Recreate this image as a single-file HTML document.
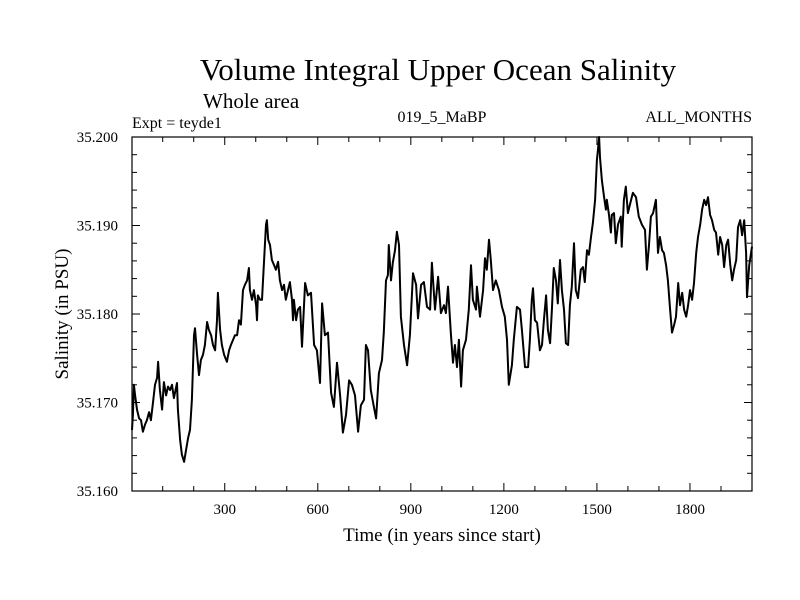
<!DOCTYPE html>
<html><head><meta charset="utf-8"><style>
body{margin:0;background:#fff}
svg{display:block;font-family:"Liberation Serif",serif}
</style></head><body>
<svg id="chart" width="800" height="600" viewBox="0 0 800 600">
<rect width="800" height="600" fill="#fff"/>
<text x="438" y="80" font-size="31" text-anchor="middle">Volume Integral Upper Ocean Salinity</text>
<text x="203" y="108" font-size="21">Whole area</text>
<text x="132" y="128" font-size="16">Expt = teyde1</text>
<text x="442" y="122" font-size="16" text-anchor="middle">019_5_MaBP</text>
<text x="752" y="122" font-size="16" text-anchor="end">ALL_MONTHS</text>
<text transform="translate(68,314) rotate(-90)" font-size="19" text-anchor="middle">Salinity (in PSU)</text>
<text x="442" y="541" font-size="19" text-anchor="middle">Time (in years since start)</text>
<g id="axes"></g>
<path id="series" fill="none" stroke="#000" stroke-width="2" stroke-linejoin="round"/>
<rect x="132" y="137" width="620" height="354" fill="none" stroke="#000" stroke-width="1.2"/>
</svg>
<script>
const years=[1,4,7,11,17,24,30,36,43,49,56,62,69,75,82,85,91,98,104,111,117,124,130,136,146,149,156,162,169,175,182,188,194,201,204,211,217,223,230,236,243,249,256,262,269,275,278,285,291,298,307,314,320,327,333,340,346,352,359,365,372,378,381,388,394,401,404,407,414,420,427,433,436,440,446,452,459,465,472,478,485,491,497,504,510,517,520,523,530,536,543,549,559,568,578,588,597,607,614,623,633,643,652,662,672,681,691,701,710,720,730,739,749,755,762,771,781,788,797,807,813,820,826,829,836,842,849,855,862,868,878,888,897,907,917,923,933,942,952,962,968,978,988,997,1007,1013,1020,1029,1036,1042,1049,1055,1062,1068,1078,1087,1094,1100,1110,1113,1123,1133,1139,1145,1152,1158,1165,1174,1184,1194,1203,1210,1216,1226,1232,1242,1252,1258,1268,1278,1284,1290,1294,1300,1307,1316,1323,1329,1336,1342,1349,1355,1361,1368,1374,1381,1387,1394,1400,1407,1413,1419,1426,1432,1439,1448,1455,1461,1468,1474,1481,1487,1494,1500,1503,1507,1510,1516,1523,1529,1532,1539,1545,1548,1555,1561,1568,1577,1580,1587,1593,1600,1606,1616,1626,1635,1645,1655,1661,1668,1674,1681,1690,1697,1703,1710,1716,1723,1729,1736,1742,1749,1755,1762,1768,1775,1781,1788,1794,1800,1807,1813,1820,1826,1833,1839,1846,1852,1858,1865,1871,1878,1884,1891,1897,1904,1910,1917,1923,1930,1936,1942,1949,1955,1962,1968,1975,1981,1984,1991,2000];
const salinity=[35.1669,35.1686,35.1720,35.1708,35.1692,35.1682,35.1680,35.1667,35.1675,35.1680,35.1689,35.1680,35.1701,35.1720,35.1728,35.1746,35.1714,35.1692,35.1723,35.1708,35.1718,35.1714,35.1720,35.1705,35.1722,35.1692,35.1658,35.1641,35.1633,35.1646,35.1660,35.1669,35.1703,35.1776,35.1784,35.1754,35.1731,35.1748,35.1754,35.1765,35.1791,35.1782,35.1776,35.1765,35.1759,35.1793,35.1824,35.1782,35.1765,35.1754,35.1746,35.1759,35.1765,35.1771,35.1776,35.1776,35.1793,35.1788,35.1827,35.1833,35.1838,35.1852,35.1827,35.1816,35.1827,35.1810,35.1793,35.1821,35.1816,35.1816,35.1861,35.1901,35.1906,35.1884,35.1878,35.1861,35.1855,35.1850,35.1859,35.1838,35.1827,35.1833,35.1816,35.1827,35.1836,35.1816,35.1793,35.1816,35.1793,35.1805,35.1808,35.1763,35.1835,35.1821,35.1824,35.1765,35.1759,35.1722,35.1812,35.1776,35.1779,35.1711,35.1695,35.1745,35.1708,35.1666,35.1686,35.1725,35.1720,35.1708,35.1667,35.1697,35.1703,35.1765,35.1759,35.1714,35.1695,35.1682,35.1733,35.1748,35.1779,35.1838,35.1844,35.1878,35.1838,35.1858,35.1872,35.1893,35.1878,35.1797,35.1765,35.1742,35.1776,35.1846,35.1833,35.1795,35.1833,35.1836,35.1808,35.1805,35.1858,35.1805,35.1842,35.1801,35.1810,35.1801,35.1831,35.1779,35.1745,35.1765,35.1740,35.1771,35.1718,35.1759,35.1771,35.1805,35.1855,35.1816,35.1805,35.1831,35.1797,35.1827,35.1863,35.1850,35.1884,35.1861,35.1827,35.1838,35.1827,35.1808,35.1797,35.1771,35.1720,35.1742,35.1771,35.1808,35.1805,35.1782,35.1740,35.1740,35.1771,35.1816,35.1829,35.1793,35.1790,35.1759,35.1765,35.1793,35.1821,35.1782,35.1767,35.1805,35.1852,35.1838,35.1812,35.1861,35.1827,35.1805,35.1767,35.1765,35.1810,35.1831,35.1880,35.1827,35.1818,35.1850,35.1853,35.1836,35.1872,35.1867,35.1887,35.1903,35.1929,35.1974,35.1985,35.2000,35.1977,35.1951,35.1932,35.1918,35.1929,35.1912,35.1892,35.1912,35.1914,35.1880,35.1901,35.1910,35.1876,35.1929,35.1944,35.1914,35.1923,35.1937,35.1932,35.1910,35.1901,35.1895,35.1850,35.1878,35.1910,35.1914,35.1929,35.1869,35.1887,35.1872,35.1869,35.1855,35.1838,35.1805,35.1779,35.1788,35.1797,35.1835,35.1810,35.1824,35.1805,35.1797,35.1810,35.1827,35.1816,35.1835,35.1869,35.1887,35.1901,35.1918,35.1929,35.1923,35.1932,35.1912,35.1906,35.1895,35.1892,35.1867,35.1887,35.1878,35.1853,35.1878,35.1884,35.1855,35.1838,35.1850,35.1861,35.1898,35.1906,35.1889,35.1906,35.1869,35.1819,35.1855,35.1876];
const xTickLabels=["300","600","900","1200","1500","1800"];
const yTickLabels=["35.160","35.170","35.180","35.190","35.200"];

const X0=132,X1=752,Y0=137,Y1=491,XMIN=1,XMAX=2000,YMIN=35.16,YMAX=35.2;
function sx(v){return X0+(v-XMIN)/(XMAX-XMIN)*(X1-X0);}
function sy(v){return Y1-(v-YMIN)/(YMAX-YMIN)*(Y1-Y0);}
const NS="http://www.w3.org/2000/svg";
const axes=document.getElementById('axes');
function line(x1,y1,x2,y2,name){const l=document.createElementNS(NS,'line');l.setAttribute('x1',x1);l.setAttribute('y1',y1);l.setAttribute('x2',x2);l.setAttribute('y2',y2);l.setAttribute('stroke','#000');l.setAttribute('stroke-width','1');


axes.appendChild(l);}
function text(x,y,s,anchor,name){const t=document.createElementNS(NS,'text');t.setAttribute('x',x);t.setAttribute('y',y);t.setAttribute('font-size','15');t.setAttribute('text-anchor',anchor);t.textContent=s;


axes.appendChild(t);}
for(let yr=100;yr<XMAX;yr+=100){const x=sx(yr);const major=yr%300===0;const L=major?8:5;
line(x,Y1,x,Y1-L,'x-tick');line(x,Y0,x,Y0+L,'x-tick-top');}
xTickLabels.forEach(s=>{text(sx(+s),514,s,'middle','x-tick-label');});
for(let k=0;k<=20;k++){const v=YMIN+k*0.002;const y=sy(v);const major=k%5===0;const L=major?8:5;
line(X0,y,X0+L,y,'y-tick');line(X1,y,X1-L,y,'y-tick-right');}
yTickLabels.forEach(s=>{text(118,sy(+s)+5,s,'end','y-tick-label');});
let d='';years.forEach((yr,i)=>{d+=(i?'L':'M')+sx(yr).toFixed(1)+' '+sy(salinity[i]).toFixed(1);});
document.getElementById('series').setAttribute('d',d);
</script>
</body></html>
